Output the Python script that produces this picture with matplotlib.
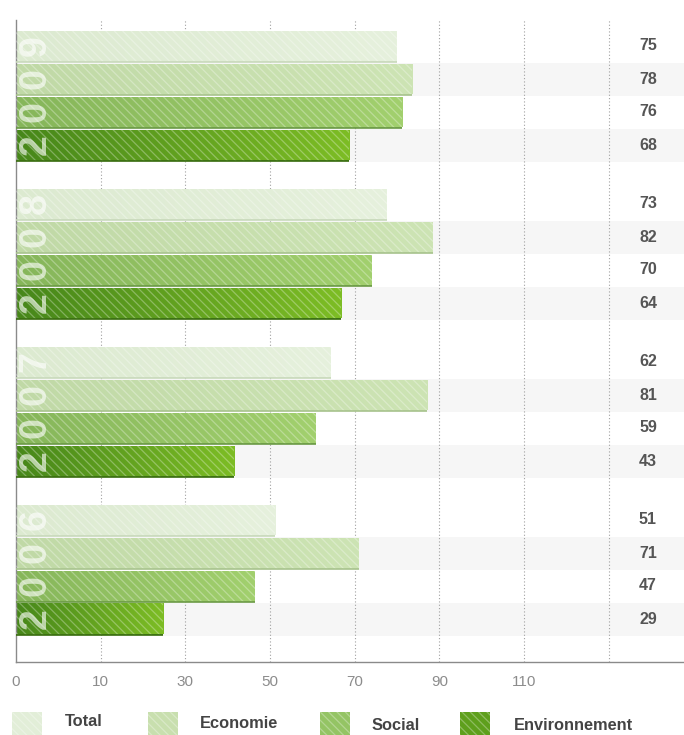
import matplotlib
matplotlib.use("Agg")
import matplotlib.pyplot as plt
import numpy as np
from matplotlib.patches import Rectangle
from matplotlib.colors import LinearSegmentedColormap

years = ["2009", "2008", "2007", "2006"]
series = ["Total", "Economie", "Social", "Environnement"]
# printed values
labels = {
    "2009": [75, 78, 76, 68],
    "2008": [73, 82, 70, 64],
    "2007": [62, 81, 59, 43],
    "2006": [51, 71, 47, 29],
}
# bar lengths as drawn in the picture
bar_values = {
    "2009": [75, 78, 76, 65.6],
    "2008": [73, 82, 70, 64],
    "2007": [62, 81, 59, 43],
    "2006": [51, 67.5, 47, 29],
}
tick_labels = ["0", "10", "30", "50", "70", "90", "110"]
grad_left = ["#dcead0", "#c0d9a6", "#86b65a", "#47871a"]
grad_right = ["#e6f1dd", "#cde4b4", "#a2d06e", "#7dbd25"]
bottom_edge = ["#c8d9bb", "#a9c48e", "#6b9a45", "#3a6e10"]
leg_colors = ["#e2eed8", "#c8dfae", "#94c464", "#5e9f1c"]

plt.rcParams["font.family"] = ["Liberation Sans", "DejaVu Sans"]
plt.rcParams["hatch.linewidth"] = 0.9

W, H = 684, 735
fig = plt.figure(figsize=(W / 100, H / 100), dpi=100)
ax_left, ax_right, ax_top, ax_bot = 16, 684, 20, 662
ax = fig.add_axes([ax_left / W, 1 - ax_bot / H, (ax_right - ax_left) / W, (ax_bot - ax_top) / H])

px_per_unit = 5.08
xmax = (ax_right - ax_left) / px_per_unit
step = 100 / 6
row = 33.0
group_pitch = 158.0 / row
bar_h = 31.0 / row

ax.set_xlim(0, xmax)
ax.set_ylim((ax_bot - 46) / row, -(46 - ax_top) / row)

grad = np.linspace(0, 1, 256).reshape(1, -1)
for g, yr in enumerate(years):
    for s, name in enumerate(series):
        y = g * group_pitch + s
        if s % 2 == 1:
            ax.axhspan(y - 0.5, y + 0.5, color="#f6f6f6", zorder=0, lw=0)
        v = bar_values[yr][s]
        bars = ax.barh(y, v, height=bar_h, color=grad_left[s], edgecolor="none", zorder=2)
        p = bars.patches[0]
        x0, y0, w, h = p.get_x(), p.get_y(), p.get_width(), p.get_height()
        cmap = LinearSegmentedColormap.from_list("g%d" % s, [grad_left[s], grad_right[s]])
        im = ax.imshow(grad, extent=(x0, x0 + w, y0 + h, y0), aspect="auto",
                       cmap=cmap, zorder=2.5, interpolation="bilinear")
        im.set_clip_path(p)
        ax.barh(y, v, height=bar_h, facecolor="none", edgecolor=(1, 1, 1, 0.3),
                lw=0, hatch="\\\\\\\\", zorder=3)
        ax.hlines(y0 + h, x0, x0 + w, color=bottom_edge[s], lw=1.2, zorder=3.5)
        ax.text(124.4, y, str(labels[yr][s]), ha="center", va="center", fontsize=11.5,
                fontweight="bold", color="#555555", zorder=5)
        ax.text(3.9, y, yr[3 - s], rotation=90, ha="center", va="center",
                fontsize=27, fontweight="bold", color=(1, 1, 1, 0.62), zorder=4)

ax.set_aspect("auto")
ax.set_xlim(0, xmax)
ax.set_ylim((ax_bot - 46) / row, -(46 - ax_top) / row)

ticks = [i * step for i in range(len(tick_labels))]
for i in range(1, len(tick_labels) + 1):
    ax.axvline(i * step, color="#a0a0a0", lw=0.8, ls=(0, (1, 2)), zorder=1)

ax.set_xticks(ticks)
ax.set_xticklabels(tick_labels, fontsize=11, color="#8c8c8c")
ax.tick_params(axis="x", length=0, pad=9)
ax.set_yticks([])
for sp in ["top", "right"]:
    ax.spines[sp].set_visible(False)
for sp in ["left", "bottom"]:
    ax.spines[sp].set_color("#8a8a8a")
    ax.spines[sp].set_linewidth(1)

leg_x = [12, 148, 320, 460]
leg_tx = [65, 200, 372, 514]
leg_ty = [722, 723, 726, 725]
for s, name in enumerate(series):
    x0 = leg_x[s]
    r = Rectangle((x0 / W, 1 - 735 / H), 30 / W, 23 / H, transform=fig.transFigure,
                  facecolor=leg_colors[s], edgecolor="none")
    fig.add_artist(r)
    r2 = Rectangle((x0 / W, 1 - 735 / H), 30 / W, 23 / H, transform=fig.transFigure,
                   facecolor="none", edgecolor=(1, 1, 1, 0.3), lw=0, hatch="\\\\\\\\")
    fig.add_artist(r2)
    fig.text(leg_tx[s] / W, 1 - leg_ty[s] / H, name, ha="left", va="center",
             fontsize=11.8, fontweight="bold", color="#444444")

fig.savefig("out.png", dpi=100)
